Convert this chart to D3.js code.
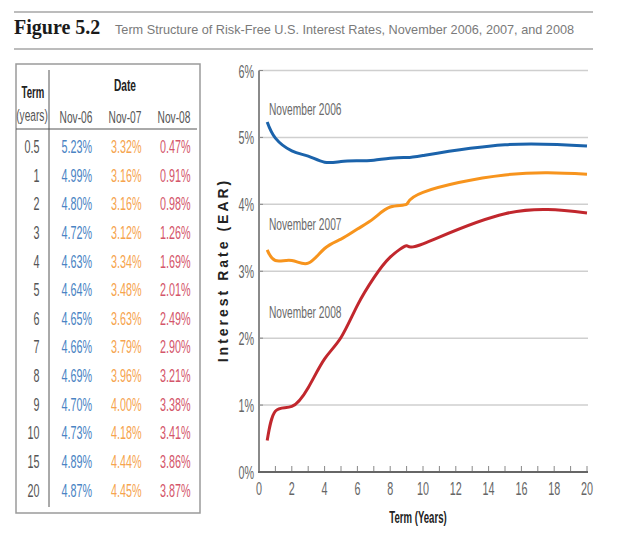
<!DOCTYPE html>
<html>
<head>
<meta charset="utf-8">
<script src="https://cdn.jsdelivr.net/npm/d3@7"></script>
<style>
  body { margin: 0; background: #fff; }
  svg { display: block; }
  .cond { font-family: "Liberation Sans", Arial, sans-serif; }
</style>
</head>
<body>
<svg id="chart" width="624" height="533"></svg>
<script>
var terms = [0.5, 1, 2, 3, 4, 5, 6, 7, 8, 9, 10, 15, 20];
var nov06 = [5.23, 4.99, 4.80, 4.72, 4.63, 4.64, 4.65, 4.66, 4.69, 4.70, 4.73, 4.89, 4.87];
var nov07 = [3.32, 3.16, 3.16, 3.12, 3.34, 3.48, 3.63, 3.79, 3.96, 4.00, 4.18, 4.44, 4.45];
var nov08 = [0.47, 0.91, 0.98, 1.26, 1.69, 2.01, 2.49, 2.90, 3.21, 3.38, 3.41, 3.86, 3.87];
var dateLabels = ["Nov-06", "Nov-07", "Nov-08"];
var curveLabels = ["November 2006", "November 2007", "November 2008"];
var yTicks = [0, 1, 2, 3, 4, 5, 6];
var xTickLabels = [0, 2, 4, 6, 8, 10, 12, 14, 16, 18, 20];

var tableColors = ["#4a84c4", "#f6a44e", "#d4566a"];
var lineColors = ["#1b63ab", "#f7941d", "#c1272d"];
var SX = 0.6; // horizontal squeeze, fakes the condensed face

var svg = d3.select("#chart");

// condensed text helper
function ctext(g, x, y, str, anchor, size) {
  return g.append("text")
    .attr("class", "cond")
    .attr("transform", "translate(" + x + "," + y + ") scale(" + SX + ",1)")
    .attr("text-anchor", anchor || "start")
    .style("font-size", (size || 18) + "px")
    .text(str);
}

// ---- title block
svg.append("line").attr("x1", 14).attr("x2", 593).attr("y1", 12).attr("y2", 12)
  .style("stroke", "#a6a6a6").style("stroke-width", 1.5);
svg.append("line").attr("x1", 14).attr("x2", 593).attr("y1", 49).attr("y2", 49)
  .style("stroke", "#a6a6a6").style("stroke-width", 1.5);
svg.append("text").attr("x", 14).attr("y", 34)
  .style("font-family", "'Liberation Serif', serif").style("font-weight", "bold")
  .style("font-size", "20px").style("fill", "#1a1a1a")
  .text("Figure 5.2");
svg.append("text").attr("x", 115).attr("y", 34)
  .style("font-family", "'Liberation Sans', sans-serif")
  .style("font-size", "12.7px").style("fill", "#7a7a7a")
  .text("Term Structure of Risk-Free U.S. Interest Rates, November 2006, 2007, and 2008");

// ---- table
var tbl = svg.append("g");
tbl.append("rect").attr("x", 16).attr("y", 64).attr("width", 184).attr("height", 449)
  .style("fill", "none").style("stroke", "#9a9a9a").style("stroke-width", 1.5);
tbl.append("line").attr("x1", 49).attr("x2", 49).attr("y1", 70).attr("y2", 507)
  .style("stroke", "#555").style("stroke-width", 1);
tbl.append("line").attr("x1", 16).attr("x2", 197).attr("y1", 129).attr("y2", 129)
  .style("stroke", "#555").style("stroke-width", 1);

ctext(tbl, 33, 98, "Term", "middle", 16).style("font-weight", "bold").style("fill", "#222");
ctext(tbl, 32, 121, "(years)", "middle", 17).style("fill", "#555");
ctext(tbl, 125, 91, "Date", "middle", 17).style("font-weight", "bold").style("fill", "#222");
var colX = [76, 125, 174];
dateLabels.forEach(function(d, i) {
  ctext(tbl, colX[i], 123, d, "middle", 17).style("fill", "#555");
});

var rowY = d3.scaleLinear().domain([0, terms.length - 1]).range([146.7, 490]);
var series = [nov06, nov07, nov08];
var valRight = [92, 141.5, 190.5];
terms.forEach(function(t, i) {
  var y = rowY(i) + 6.5;
  ctext(tbl, 39.5, y, t, "end").style("fill", "#555");
  series.forEach(function(s, j) {
    ctext(tbl, valRight[j], y, s[i].toFixed(2) + "%", "end").style("fill", tableColors[j]);
  });
});

// ---- chart
var x = d3.scaleLinear().domain([0, 20]).range([259, 587]);
var y = d3.scaleLinear().domain([0, 6]).range([472, 70.5]);
var plot = svg.append("g");

plot.selectAll(".grid").data(yTicks.slice(1)).join("line")
  .attr("class", "grid")
  .attr("x1", x(0)).attr("x2", x(20) + 1)
  .attr("y1", function(d) { return y(d); }).attr("y2", function(d) { return y(d); })
  .style("stroke", "#cfcfcf").style("stroke-width", 1.5);

// small inner ticks on the y axis
plot.selectAll(".ytick").data(yTicks.slice(1)).join("line")
  .attr("class", "ytick")
  .attr("x1", x(0)).attr("x2", x(0) + 4)
  .attr("y1", function(d) { return y(d); }).attr("y2", function(d) { return y(d); })
  .style("stroke", "#888").style("stroke-width", 1);

plot.append("line").attr("x1", x(0)).attr("x2", x(0)).attr("y1", y(6)).attr("y2", y(0))
  .style("stroke", "#8a8a8a").style("stroke-width", 2);

// x ticks every year, pointing up
plot.selectAll(".xtick").data(d3.range(1, 21)).join("line")
  .attr("class", "xtick")
  .attr("x1", function(d) { return x(d); }).attr("x2", function(d) { return x(d); })
  .attr("y1", y(0)).attr("y2", y(0) - 6)
  .style("stroke", "#888").style("stroke-width", 1);

plot.append("line").attr("x1", x(0) - 1).attr("x2", x(20) + 1).attr("y1", y(0)).attr("y2", y(0))
  .style("stroke", "#666").style("stroke-width", 2);

yTicks.forEach(function(d) {
  ctext(plot, 254, y(d) + 7, d + "%", "end").style("fill", "#666");
});
xTickLabels.forEach(function(d) {
  ctext(plot, x(d), 495, d, "middle").style("fill", "#666");
});

ctext(plot, 418, 523, "Term (Years)", "middle", 16).style("font-weight", "bold").style("fill", "#222");

svg.append("text")
  .attr("transform", "translate(228,270) rotate(-90)")
  .attr("text-anchor", "middle")
  .style("font-family", "'Liberation Sans', Arial, sans-serif")
  .style("font-weight", "bold").style("font-size", "14px")
  .style("letter-spacing", "3px").style("fill", "#222")
  .text("Interest Rate (EAR)");

var line = d3.line()
  .x(function(d) { return x(d[0]); })
  .y(function(d) { return y(d[1]); })
  .curve(d3.curveNatural);

series.forEach(function(s, j) {
  plot.append("path")
    .datum(terms.map(function(t, i) { return [t, s[i]]; }))
    .attr("d", line)
    .style("fill", "none")
    .style("stroke", lineColors[j])
    .style("stroke-width", 3);
});

var labelY = [115, 230, 317.5];
curveLabels.forEach(function(d, i) {
  ctext(plot, 269, labelY[i], d, "start", 17).style("fill", "#6a6a6a");
});
</script>
</body>
</html>
